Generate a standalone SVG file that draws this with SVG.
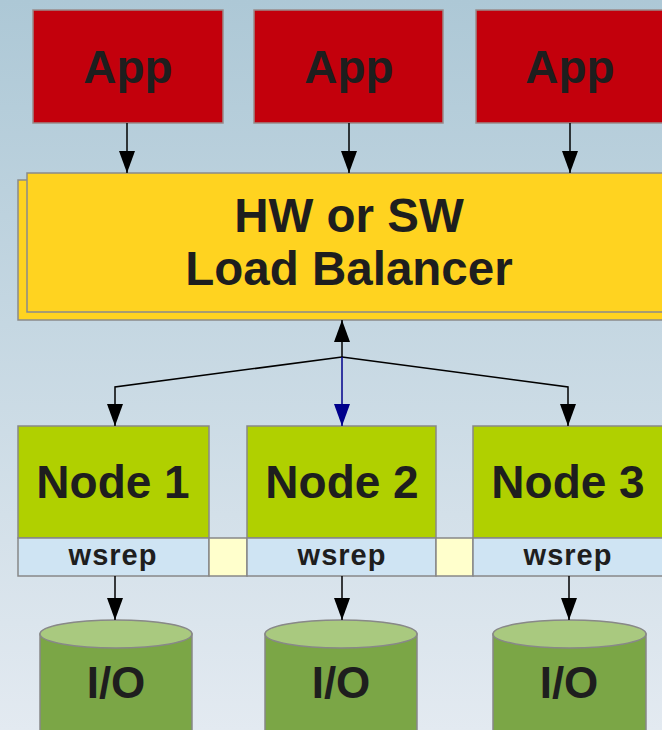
<svg xmlns="http://www.w3.org/2000/svg" width="662" height="730" viewBox="0 0 662 730">
<defs>
<linearGradient id="bg" x1="0" y1="0" x2="0" y2="1">
<stop offset="0" stop-color="#adc8d6"/>
<stop offset="1" stop-color="#e3eaf1"/>
</linearGradient>
<marker id="ah" markerUnits="userSpaceOnUse" markerWidth="22" markerHeight="16" viewBox="0 0 22 16" refX="22" refY="8" orient="auto">
<path d="M0,0 L22,8 L0,16 z" fill="#000"/>
</marker>
<marker id="ahb" markerUnits="userSpaceOnUse" markerWidth="22" markerHeight="16" viewBox="0 0 22 16" refX="22" refY="8" orient="auto">
<path d="M0,0 L22,8 L0,16 z" fill="#00008b"/>
</marker>
<style>
.t{font-family:"Liberation Sans",Arial,sans-serif;font-weight:bold;fill:#1e1e1e;text-anchor:middle}
.app{fill:#c3000c;stroke:#9a8a8a;stroke-width:1.5}
.lb{fill:#ffd320;stroke:#8a8a8a;stroke-width:1.5}
.node{fill:#b0d000;stroke:#888;stroke-width:1.5}
.ws{fill:#cfe4f3;stroke:#888;stroke-width:1.5}
.gap{fill:#ffffcc;stroke:#888;stroke-width:1.5}
.cb{fill:#7ba646;stroke:#888;stroke-width:1.5}
.ct{fill:#a9c97f;stroke:#888;stroke-width:1.5}
.c{fill:none;stroke:#000;stroke-width:1.5;marker-end:url(#ah)}
</style>
</defs>
<rect x="0" y="0" width="662" height="730" fill="url(#bg)"/>

<g id="app1"><rect class="app" x="33" y="10" width="190" height="113"/><text class="t" x="128" y="83" font-size="46">App</text></g>
<g id="app2"><rect class="app" x="254" y="10" width="189" height="113"/><text class="t" x="349" y="83" font-size="46">App</text></g>
<g id="app3"><rect class="app" x="476" y="10" width="190" height="113"/><text class="t" x="570" y="83" font-size="46">App</text></g>

<g id="loadbalancer">
<rect class="lb" x="18" y="180" width="660" height="140"/>
<rect class="lb" x="27" y="173" width="660" height="139"/>
<text class="t" x="349" y="232" font-size="47.5">HW or SW</text>
<text class="t" x="349" y="285" font-size="47.5">Load Balancer</text>
</g>

<g id="node1">
<rect class="node" x="18" y="426" width="191" height="112"/>
<text class="t" x="113" y="498" font-size="46">Node 1</text>
<rect class="ws" x="18" y="538" width="191" height="38"/>
<text class="t" x="113" y="565" font-size="29" letter-spacing="1">wsrep</text>
</g>
<g id="gap1"><rect class="gap" x="209" y="538" width="38" height="38"/></g>
<g id="node2">
<rect class="node" x="247" y="426" width="189" height="112"/>
<text class="t" x="342" y="498" font-size="46">Node 2</text>
<rect class="ws" x="247" y="538" width="189" height="38"/>
<text class="t" x="342" y="565" font-size="29" letter-spacing="1">wsrep</text>
</g>
<g id="gap2"><rect class="gap" x="436" y="538" width="37" height="38"/></g>
<g id="node3">
<rect class="node" x="473" y="426" width="192" height="112"/>
<text class="t" x="568" y="498" font-size="46">Node 3</text>
<rect class="ws" x="473" y="538" width="192" height="38"/>
<text class="t" x="568" y="565" font-size="29" letter-spacing="1">wsrep</text>
</g>

<g id="io1">
<path class="cb" d="M40,634 L40,740 L192,740 L192,634 z"/>
<ellipse class="ct" cx="116" cy="634" rx="76" ry="14"/>
<text class="t" x="116" y="698" font-size="44">I/O</text>
</g>
<g id="io2">
<path class="cb" d="M265,634 L265,740 L417,740 L417,634 z"/>
<ellipse class="ct" cx="341" cy="634" rx="76" ry="14"/>
<text class="t" x="341" y="698" font-size="44">I/O</text>
</g>
<g id="io3">
<path class="cb" d="M493,634 L493,740 L646,740 L646,634 z"/>
<ellipse class="ct" cx="569.5" cy="634" rx="76.5" ry="14"/>
<text class="t" x="569" y="698" font-size="44">I/O</text>
</g>

<g id="connectors">
<line class="c" x1="127" y1="123" x2="127" y2="173"/>
<line class="c" x1="349" y1="123" x2="349" y2="173"/>
<line class="c" x1="570" y1="123" x2="570" y2="173"/>
<line class="c" x1="342" y1="357" x2="342" y2="320"/>
<polyline class="c" points="342,357 115,387 115,426"/>
<polyline class="c" points="342,357 568,387 568,426"/>
<line x1="342" y1="357" x2="342" y2="426" stroke="#00008b" stroke-width="1.5" marker-end="url(#ahb)"/>
<line class="c" x1="115" y1="576" x2="115" y2="620"/>
<line class="c" x1="342" y1="576" x2="342" y2="620"/>
<line class="c" x1="569" y1="576" x2="569" y2="620"/>
</g>
</svg>
